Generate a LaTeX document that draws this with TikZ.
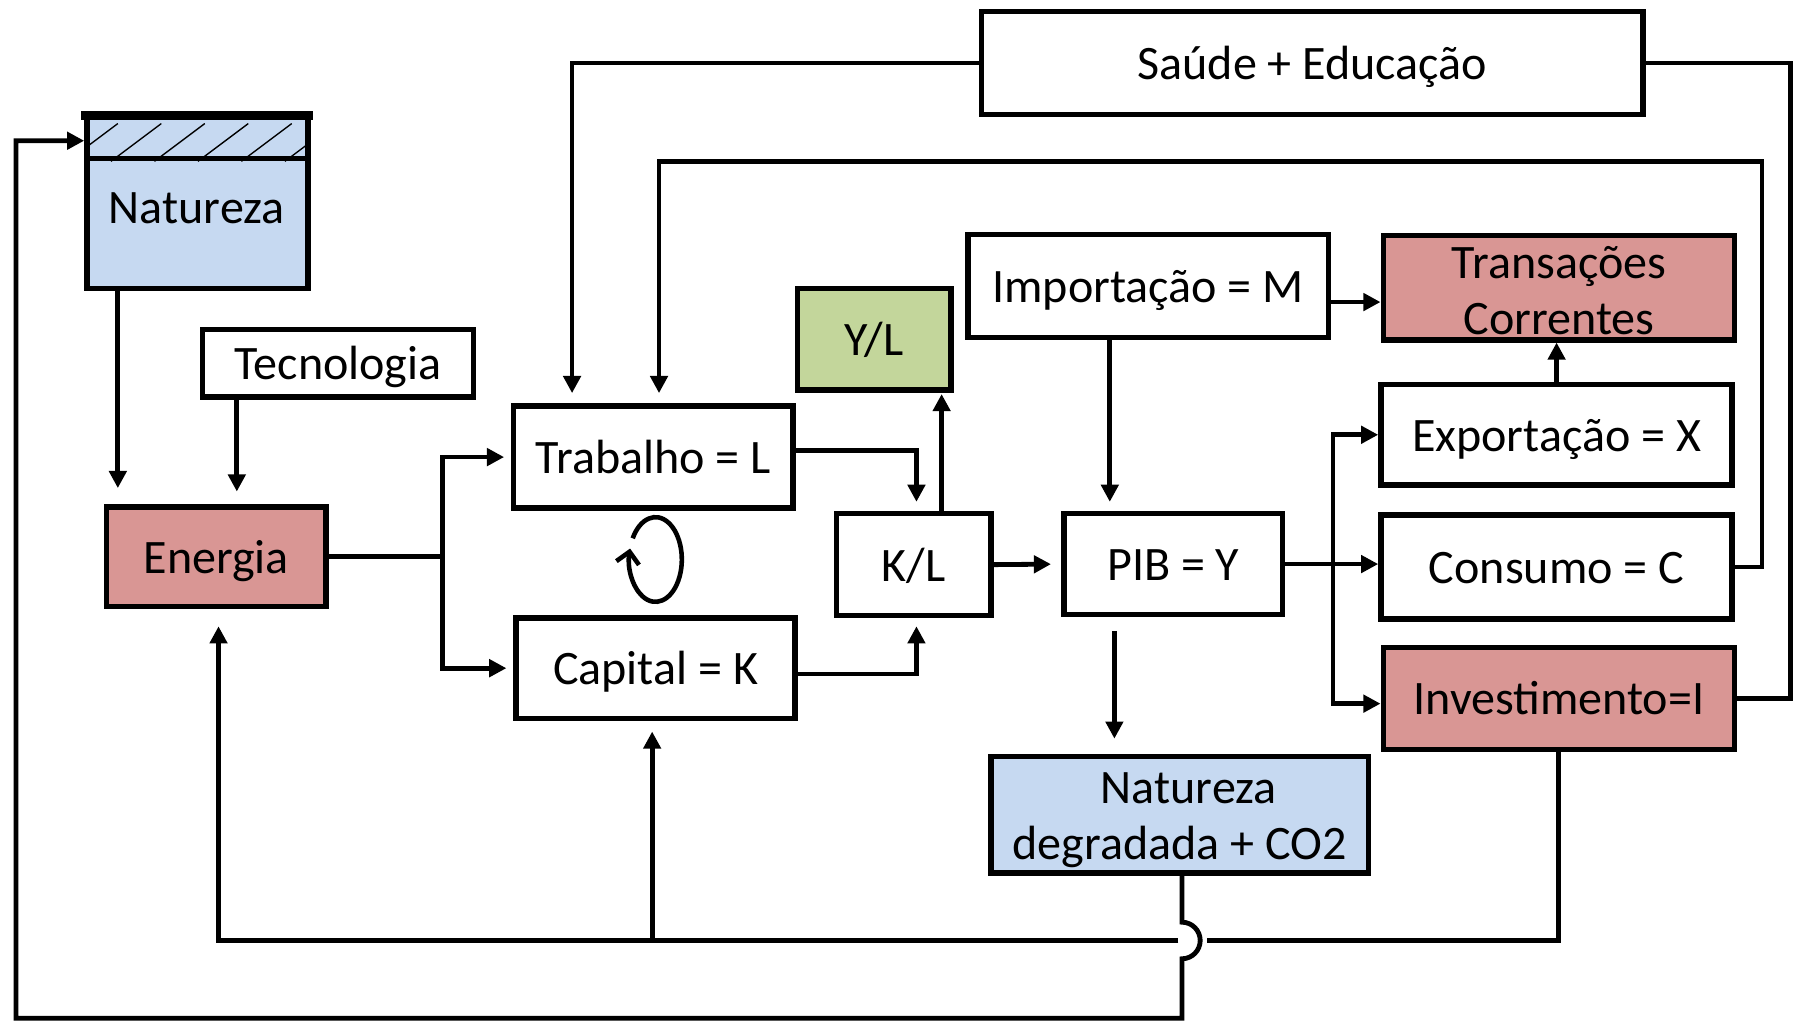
\documentclass[tikz,border=0pt]{standalone}
\usepackage{fontspec}
\setmainfont{Carlito}
\usetikzlibrary{arrows.meta}
\definecolor{natblue}{HTML}{C6D9F1}
\definecolor{redbox}{HTML}{D99694}
\definecolor{greenbox}{HTML}{C3D69B}
\begin{document}
\begin{tikzpicture}[x=0.5pt,y=-0.5pt,
  box/.style={draw, line width=2.4pt, inner sep=0pt, font=\fontsize{21}{24.5}\selectfont, align=center, text height=17pt, text depth=2.6pt},
  box2/.style={draw, line width=2.4pt, inner sep=0pt},
  lbl/.style={inner sep=0pt, font=\fontsize{21}{24.5}\selectfont, align=center},
  ln/.style={line width=2.1pt},
  arr/.style={ln, -{Triangle[length=7.5pt,width=7.5pt]}},
  hatch/.style={line width=0.6pt}]
\useasboundingbox (0,0) rectangle (1568,894);

% boxes
\node[box, minimum width=289pt, minimum height=45pt] (sau) at (1147,55) {Saúde + Educação};
\node[box2, fill=natblue, minimum width=96.5pt, minimum height=75pt] (nat) at (172.5,177) {};
\node[box, minimum width=118.5pt, minimum height=29.5pt] (tec) at (295.5,317.5) {Tecnologia};
\node[box, fill=redbox, minimum width=96pt, minimum height=43.5pt] (ene) at (189,486.5) {Energia};
\node[box, minimum width=122pt, minimum height=44.5pt] (tra) at (571,399.5) {Trabalho = L};
\node[box, minimum width=122pt, minimum height=44pt] (cap) at (573,584) {Capital = K};
\node[box, fill=greenbox, minimum width=67pt, minimum height=44.5pt] (yl) at (764,296.5) {Y/L};
\node[box, minimum width=67.5pt, minimum height=44.5pt] (kl) at (798.5,493.5) {K/L};
\node[box, minimum width=157.5pt, minimum height=45pt] (imp) at (1003.5,250) {Importação = M};
\node[box2, fill=redbox, minimum width=153.5pt, minimum height=45.5pt] (tc) at (1362.5,251.5) {};
\node[lbl] (tclbl) at (1362.5,254) {Transações\\Correntes};
\node[box, minimum width=153.5pt, minimum height=44pt] (exp) at (1360.5,380) {Exportação = X};
\node[box, minimum width=95.5pt, minimum height=44pt] (pib) at (1025.5,493) {PIB = Y};
\node[box, minimum width=153.5pt, minimum height=45.5pt] (con) at (1360.5,495.5) {Consumo = C};
\node[box, fill=redbox, minimum width=153.5pt, minimum height=44.5pt] (inv) at (1362.5,610.5) {Investimento=I};
\node[box2, fill=natblue, minimum width=165pt, minimum height=51pt] (nd) at (1031,712) {};
\node[lbl] (ndlbl) at (1031,717) {\hspace*{8pt}Natureza\\degradada + CO2};

% Natureza hatched band
\begin{scope}
  \clip (78,104) rectangle (267,141);
  \foreach \x in {59,97,135,173,211,249,287} {
    \draw[hatch] (\x,141) -- ++(44,-33);
  }
\end{scope}
\draw[line width=2.4pt] ([yshift=-19.5pt]nat.north west) -- ([yshift=-19.5pt]nat.north east);
\draw[line width=3.8pt] ([xshift=-1.2pt,yshift=-0.7pt]nat.north west) -- ([xshift=1.2pt,yshift=-0.7pt]nat.north east);
\node[lbl] (natlbl) at (172,182) {Natureza};

% helper coordinates
\coordinate (xA) at (500,0);
\coordinate (xB) at (576,0);
\coordinate (cC) at (1540,141);
\coordinate (xD) at (1565,0);
\coordinate (xE) at (387,0);
\coordinate (xF) at (801,0);
\coordinate (xG) at (823,0);
\coordinate (xH) at (970,0);
\coordinate (xI) at (1165,0);
\coordinate (xJ) at (974,0);
\coordinate (xN1) at (103,0);
\coordinate (xN2) at (207,0);
\coordinate (yM) at (0,264);
\coordinate (yI) at (0,615);
\coordinate (hx) at (1033,822);
\coordinate (cN) at (14,890);
\coordinate (yNat) at (0,123);
\coordinate (xEn) at (191,0);
\coordinate (xCa) at (570,0);
\coordinate (xIn) at (1362,0);
\coordinate (cycS) at (553,470.5);

% connectors
\draw[arr, shorten >=4.5pt] (sau.west) -| (tra.north -| xA);
\draw[ln] (sau.east) -| (xD |- inv.east) -- (inv.east);
\draw[arr, shorten >=4.5pt] (con.east) -| (cC) -| (tra.north -| xB);
\draw[arr, shorten >=7pt] (nat.south -| xN1) -- (ene.north -| xN1);
\draw[arr, shorten >=5.5pt] (tec.south -| xN2) -- (ene.north -| xN2);
\draw[arr, shorten >=3pt] (ene.east) -| (xE |- tra.west) -- (tra.west);
\draw[arr, shorten >=3pt] (ene.east) -| (xE |- cap.west) -- (cap.west);
\draw[arr, shorten >=4pt] ([yshift=2.75pt]tra.east) -| (kl.north -| xF);
\draw[arr, shorten >=3.5pt] ([yshift=-2.5pt]cap.east) -| (kl.south -| xF);
\draw[arr, shorten >=0.5pt] (kl.north -| xG) -- (yl.south -| xG);
\draw[arr, shorten >=4.5pt] (kl.east) -- (pib.west);
\draw[arr, shorten >=4pt] (imp.south -| xH) -- (pib.north -| xH);
\draw[arr] (imp.east |- yM) -- (tc.west |- yM);
\draw[arr] (exp.north) -- (tc.south -| exp.north);
\draw[arr] (pib.east) -- (con.west |- pib.east);
\draw[arr] (xI |- pib.east) |- (exp.west);
\draw[arr] (xI |- pib.east) |- (inv.west |- yI);
\draw[arr, shorten <=6pt, shorten >=6.5pt] (pib.south -| xJ) -- (nd.north -| xJ);

% bottom feedback
\draw[ln] (inv.south -| xIn) |- ([xshift=11pt]hx);
\draw[arr, shorten >=7.5pt] ([xshift=-1.5pt]hx) -| (ene.south -| xEn);
\draw[arr, shorten >=4.5pt] (xCa |- hx) -- (cap.south -| xCa);
\draw[arr] (nd.south -| hx) -- ([yshift=8pt]hx) arc[start angle=90, end angle=-90, radius=8pt] -- (hx |- cN) -- (cN) |- (nat.west |- yNat);

% cycle symbol
\draw[line width=2pt, -{Straight Barb[length=5pt,width=10pt]}] (cycS) arc[start angle=150, end angle=-195, x radius=11.5pt, y radius=18.5pt];
\end{tikzpicture}
\end{document}
